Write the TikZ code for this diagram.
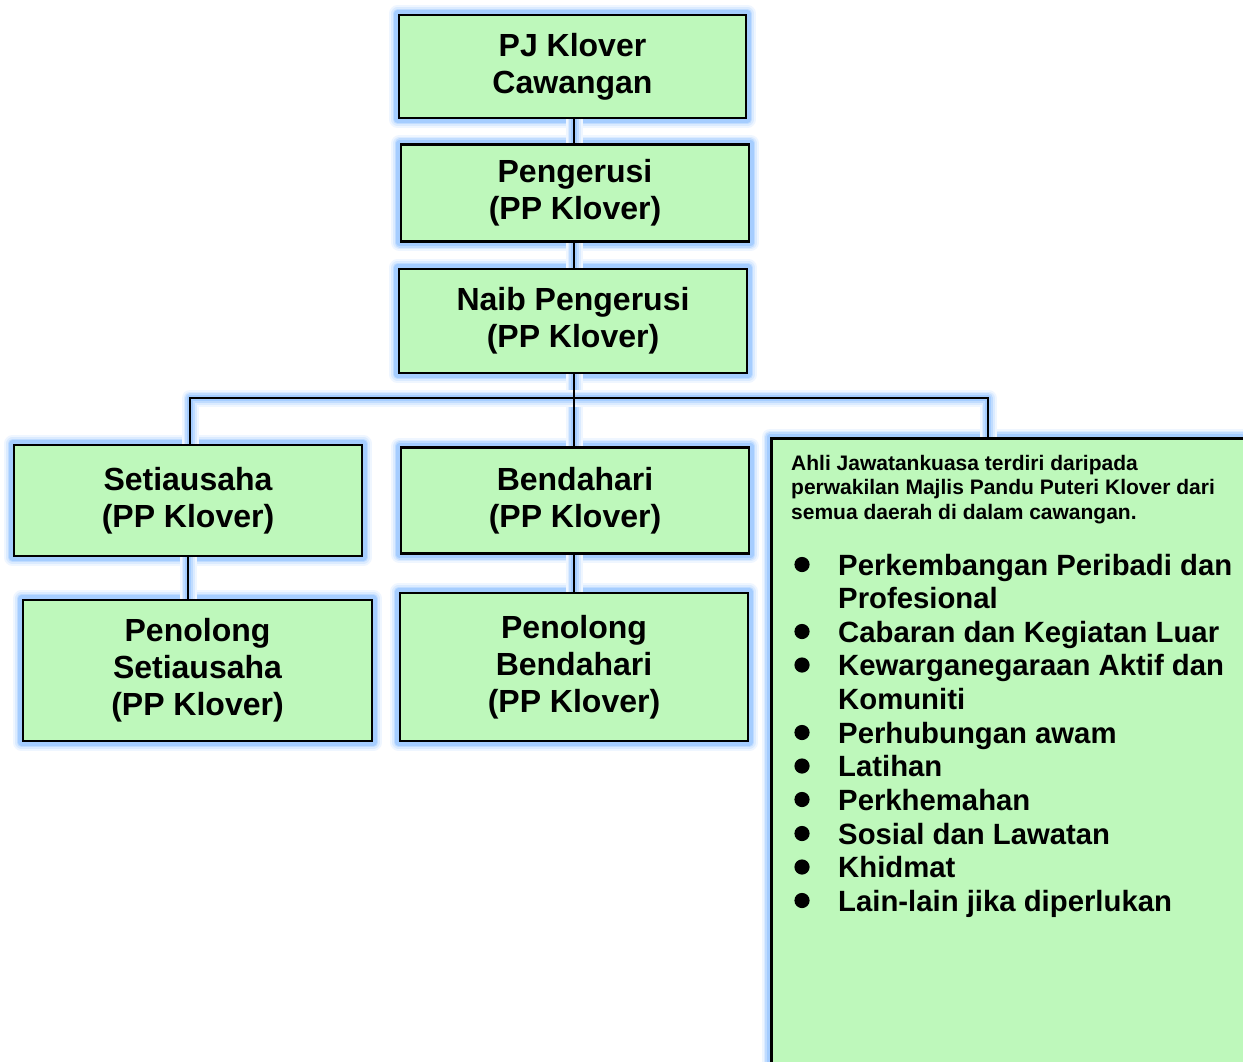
\documentclass[tikz,border=0pt]{standalone}
\usepackage{fontspec}
\setmainfont{Liberation Sans}
\pgfdeclarelayer{glowlayer}
\pgfdeclarelayer{linelayer}
\pgfsetlayers{glowlayer,linelayer,main}
\definecolor{boxfill}{RGB}{190,248,187}
\definecolor{glowc}{RGB}{165,205,255}
\tikzset{
  box/.style={draw=black, line width=2.6pt, fill=boxfill, align=center,
    font=\bfseries\fontsize{32}{37}\selectfont, inner sep=0pt},
  conn/.style={draw=black, line width=2.6pt},
  glowA/.style={draw=glowc!18, line width=17pt, line join=round},
  glowB/.style={draw=glowc!40, line width=13pt, line join=round},
  glowC/.style={draw=glowc!70, line width=9.5pt, line join=round},
  glowD/.style={draw=glowc, line width=6.5pt, line join=round},
  hdr/.style={anchor=base west, inner sep=0pt, font=\bfseries\fontsize{21}{24.5}\selectfont},
  item/.style={anchor=base west, inner sep=0pt, font=\bfseries\fontsize{29.3}{33.6}\selectfont},
}
\newcommand\glowpath[1]{\draw[glowA] #1; \draw[glowB] #1; \draw[glowC] #1; \draw[glowD] #1;}
\begin{document}
\begin{tikzpicture}[x=1pt,y=-1pt]
\useasboundingbox (0,0) rectangle (1243,1061);

% boxes
\node[box, minimum width=347pt, minimum height=103pt] (b1) at (572.5,66.5) {PJ Klover\\Cawangan};
\node[box, minimum width=348pt, minimum height=97pt] (b2) at (575,193) {Pengerusi\\(PP Klover)};
\node[box, minimum width=348pt, minimum height=104pt] (b3) at (573,321) {Naib Pengerusi\\(PP Klover)};
\node[box, minimum width=348pt, minimum height=111pt] (sec) at (188,500.5) {Setiausaha\\(PP Klover)};
\node[box, minimum width=348pt, minimum height=106pt] (ben) at (575,500.5) {Bendahari\\(PP Klover)};
\node[box, minimum width=349pt, minimum height=141pt] (psec) at (197.5,670.5) {Penolong\\Setiausaha\\(PP Klover)};
\node[box, minimum width=348pt, minimum height=148pt] (pben) at (574,667) {Penolong\\Bendahari\\(PP Klover)};
\node[box, anchor=north west, minimum width=500pt, minimum height=660pt] (rb) at (770,437) {};

% right box text
\node[hdr] (h1) at (791,470) {Ahli Jawatankuasa terdiri daripada};
\node[hdr] (h2) at (791,494.5) {perwakilan Majlis Pandu Puteri Klover dari};
\node[hdr] (h3) at (791,519) {semua daerah di dalam cawangan.};

\node[item] (i1) at (838,575) {Perkembangan Peribadi dan};
\node[item] (i1b) at (838,608.5) {Profesional};
\node[item] (i2) at (838,642) {Cabaran dan Kegiatan Luar};
\node[item] (i3) at (838,675.5) {Kewarganegaraan Aktif dan};
\node[item] (i3b) at (838,709) {Komuniti};
\node[item] (i4) at (838,743) {Perhubungan awam};
\node[item] (i5) at (838,776.5) {Latihan};
\node[item] (i6) at (838,810) {Perkhemahan};
\node[item] (i7) at (838,844) {Sosial dan Lawatan};
\node[item] (i8) at (838,877.5) {Khidmat};
\node[item] (i9) at (838,911) {Lain-lain jika diperlukan};
\foreach \y in {575,642,675.5,743,776.5,810,844,877.5,911}
  \fill (802,\y-10.5) circle (7.6pt);

% bus coordinates
\coordinate (bus) at (574,398);
\coordinate (busL) at (190,398);
\coordinate (busR) at (988,398);

% glow
\begin{pgfonlayer}{glowlayer}
  \fill[white] (0,0) rectangle (1243,1061);
  \foreach \n in {b1,b2,b3,sec,ben,psec,pben,rb}
    {\glowpath{(\n.north west) rectangle (\n.south east)}}
  \glowpath{(b1.south -| bus) -- (b3.north -| bus)}
  \glowpath{(b3.south -| bus) -- (ben.north -| bus)}
  \glowpath{(busL |- sec.north) -- (busL) -- (busR) -- (busR |- rb.north)}
  \glowpath{(sec.south) -- (sec.south |- psec.north)}
  \glowpath{(ben.south -| bus) -- (pben.north -| bus)}
\end{pgfonlayer}

% connectors
\begin{pgfonlayer}{linelayer}
  \draw[conn] (b1.south -| bus) -- (b2.north -| bus);
  \draw[conn] (b2.south -| bus) -- (b3.north -| bus);
  \draw[conn] (b3.south -| bus) -- (bus);
  \draw[conn] (bus) -- (ben.north -| bus);
  \draw[conn] (busL |- sec.north) -- (busL) -- (busR) -- (busR |- rb.north);
  \draw[conn] (sec.south) -- (sec.south |- psec.north);
  \draw[conn] (ben.south -| bus) -- (pben.north -| bus);
\end{pgfonlayer}
\end{tikzpicture}
\end{document}
